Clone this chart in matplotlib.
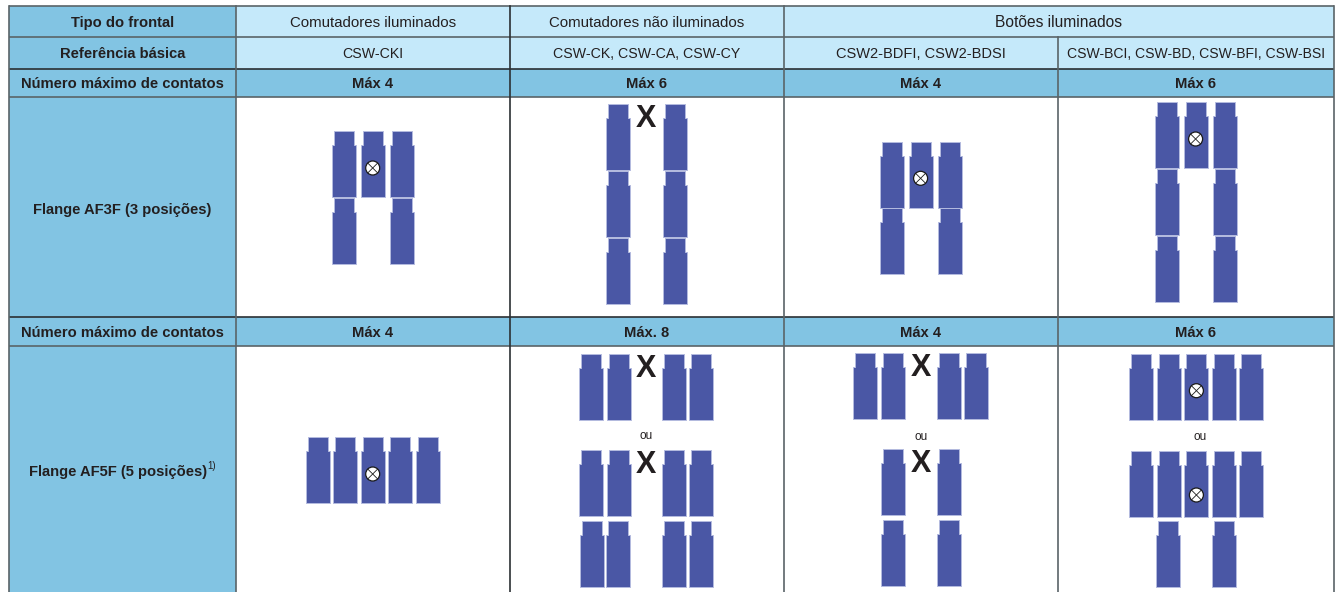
import matplotlib
matplotlib.use('Agg')
import matplotlib.pyplot as plt
from matplotlib.patches import Polygon, Circle, Rectangle

plt.rcParams['font.family'] = ['Liberation Sans', 'DejaVu Sans']

# table text
linha_tipo = ['Tipo do frontal', 'Comutadores iluminados', 'Comutadores não iluminados', 'Botões iluminados']
linha_ref = ['Referência básica', 'CSW-CKI', 'CSW-CK, CSW-CA, CSW-CY', 'CSW2-BDFI, CSW2-BDSI',
             'CSW-BCI, CSW-BD, CSW-BFI, CSW-BSI']
rotulo_max = 'Número máximo de contatos'
max_af3f = ['Máx 4', 'Máx 6', 'Máx 4', 'Máx 6']
max_af5f = ['Máx 4', 'Máx. 8', 'Máx 4', 'Máx 6']
flange_3 = 'Flange AF3F (3 posições)'
flange_5 = 'Flange AF5F (5 posições)'
nota = '1)'
ou = 'ou'

# grid, in pixels of the picture
xs = [9, 236, 509.5, 783.5, 1057.5, 1334]
ys = [6, 37, 68.5, 97, 317, 346, 595]
tam_ref = [11, 10.2, 10.2, 10.5, 10.05]

# contact blocks: (top of the cap, [left of the body, ...])
blocos = [
    (131, [332, 360.5, 389.5]), (198, [332, 389.5]),
    (104.3, [605.7, 663]), (171.3, [605.7, 663]), (238.3, [605.7, 663]),
    (141.7, [880, 908.8, 938]), (208.3, [880, 938]),
    (102.3, [1155, 1183.6, 1212.7]), (169.3, [1155, 1212.7]), (236.3, [1155, 1212.7]),
    (437, [305.7, 333, 360.7, 388, 415.7]),
    (354, [579.3, 607, 662, 689.3]), (450.3, [579.3, 607, 662, 689.3]), (520.7, [580, 606.3, 662, 689]),
    (353, [853.3, 881, 936.6, 964]), (449.3, [881, 936.6]), (519.7, [880.7, 936.6]),
    (353.7, [1128.8, 1156.5, 1184.3, 1211.7, 1239.4]), (450.7, [1128.8, 1156.5, 1184.3, 1211.7, 1239.4]),
    (521, [1156, 1211.7]),
]
lampadas = [(372.7, 168), (920.6, 178.3), (1195.6, 139), (372.7, 474), (1196.4, 390.7), (1196.4, 495)]
marcas_x = [(646.3, 115.7), (646.3, 366), (646.3, 462), (921.3, 365), (921.3, 460.7)]
marcas_ou = [(646.3, 434.7), (921, 435.7), (1200.6, 435.7)]

azul = '#82c4e3'
claro = '#c5e9fa'
modulo = '#4a57a5'
borda = '#b4bbdf'
linha = '#5a6468'
escura = '#2b3033'
texto = '#231f20'

fig = plt.figure(figsize=(13.35, 5.92), dpi=100)
ax = fig.add_axes([0, 0, 1, 1])
ax.set_xlim(0, 1335)
ax.set_ylim(592, 0)
ax.axis('off')


def celula(x0, x1, y0, y1, cor):
    ax.add_patch(Rectangle((x0, y0), x1 - x0, y1 - y0, facecolor=cor, edgecolor='none', zorder=1))


def escreve(x, y, s, size=11, weight='normal'):
    # y is the middle of the capitals, so put the baseline half a cap height below it
    base = y + 0.36 * size * 100 / 72
    ax.text(x, base, s, fontsize=size, weight=weight, color=texto, ha='center', va='baseline', zorder=5)


def meio(a, b):
    return (a + b) / 2


# backgrounds
celula(xs[0], xs[1], ys[0], ys[6], azul)
celula(xs[1], xs[5], ys[0], ys[2], claro)
celula(xs[1], xs[5], ys[2], ys[3], azul)
celula(xs[1], xs[5], ys[4], ys[5], azul)

# grid lines, the ones above the "Máx" rows are darker
for i, y in enumerate(ys[:6]):
    cor = escura if i in (2, 4) else linha
    ax.plot([xs[0], xs[5]], [y, y], color=cor, lw=1.2, zorder=3, solid_capstyle='butt')
for i, x in enumerate(xs):
    cor = escura if i == 2 else linha
    if i == 4:
        ax.plot([x, x], [ys[1], ys[6]], color=cor, lw=1.2, zorder=3)
    else:
        ax.plot([x, x], [ys[0], ys[6]], color=cor, lw=1.2, zorder=3)

# header text
negrito = 10.6
escreve(meio(xs[0], xs[1]), meio(ys[0], ys[1]), linha_tipo[0], weight='bold', size=negrito)
escreve(meio(xs[1], xs[2]), meio(ys[0], ys[1]), linha_tipo[1], size=10.8)
escreve(meio(xs[2], xs[3]), meio(ys[0], ys[1]), linha_tipo[2], size=10.8)
escreve(meio(xs[3], xs[5]), meio(ys[0], ys[1]), linha_tipo[3], size=11.2)
escreve(meio(xs[0], xs[1]), meio(ys[1], ys[2]), linha_ref[0], weight='bold', size=negrito)
for i in range(4):
    escreve(meio(xs[i + 1], xs[i + 2]), meio(ys[1], ys[2]), linha_ref[i + 1], size=tam_ref[i + 1])

escreve(meio(xs[0], xs[1]), meio(ys[2], ys[3]), rotulo_max, weight='bold', size=negrito)
escreve(meio(xs[0], xs[1]), meio(ys[4], ys[5]), rotulo_max, weight='bold', size=negrito)
for i in range(4):
    escreve(meio(xs[i + 1], xs[i + 2]), meio(ys[2], ys[3]), max_af3f[i], weight='bold', size=negrito)
    escreve(meio(xs[i + 1], xs[i + 2]), meio(ys[4], ys[5]), max_af5f[i], weight='bold', size=negrito)

escreve(meio(xs[0], xs[1]), 208.3, flange_3, weight='bold', size=negrito)
escreve(118, 470.7, flange_5, weight='bold', size=negrito)
escreve(212, 465.5, nota, size=7)

# contact blocks
for topo, lista in blocos:
    for x in lista:
        pts = [(x + 2, topo), (x + 22, topo), (x + 22, topo + 14), (x + 24, topo + 14),
               (x + 24, topo + 66), (x, topo + 66), (x, topo + 14), (x + 2, topo + 14)]
        ax.add_patch(Polygon(pts, closed=True, facecolor=modulo, edgecolor=borda, lw=0.7, zorder=2))

# lamp symbol
for x, y in lampadas:
    ax.add_patch(Circle((x, y), 7, facecolor='white', edgecolor='#1a1a1a', lw=0.9, zorder=4))
    d = 4.9
    ax.plot([x - d, x + d], [y - d, y + d], color='#1a1a1a', lw=0.6, zorder=5)
    ax.plot([x - d, x + d], [y + d, y - d], color='#1a1a1a', lw=0.6, zorder=5)

for x, y in marcas_x:
    escreve(x, y, 'X', size=22, weight='bold')
for x, y in marcas_ou:
    escreve(x, y, ou, size=8.5)

fig.savefig('out.png', dpi=100)
